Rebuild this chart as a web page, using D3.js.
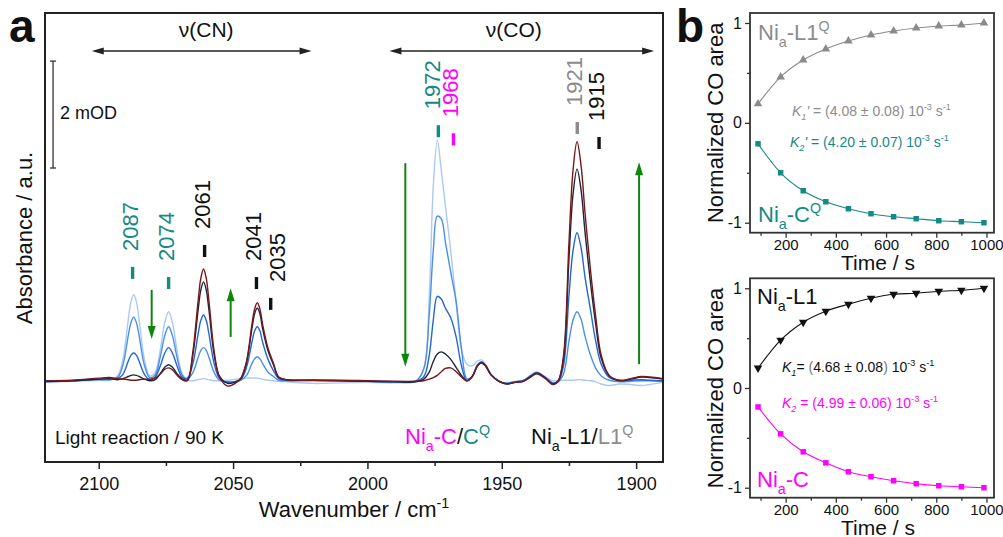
<!DOCTYPE html>
<html>
<head>
<meta charset="utf-8">
<script src="https://d3js.org/d3.v7.min.js"></script>
<style>
  body { margin: 0; background: #fff; }
  svg { display: block; font-family: "Liberation Sans", Arial, sans-serif; }
</style>
</head>
<body>
<svg id="fig" width="1003" height="537"></svg>
<script>
// ---------- panel a : IR spectra (mOD vs wavenumber) ----------
const wn = [2120, 2110, 2100, 2096, 2093, 2091, 2089, 2088, 2087, 2086,
            2085, 2083, 2081, 2079, 2077, 2075.5, 2074, 2072.5, 2071, 2069,
            2067, 2065, 2063, 2062, 2061, 2060, 2059, 2057, 2055, 2052,
            2049, 2047, 2045, 2043, 2042, 2041, 2040, 2039, 2037, 2035,
            2033, 2030, 2020, 2010, 2000, 1990, 1982, 1979, 1977, 1975.5,
            1974, 1972.5, 1971, 1969, 1967, 1965, 1963, 1961, 1959, 1957.5,
            1956, 1954, 1951, 1948, 1945, 1942, 1939.5, 1937, 1934, 1931,
            1929, 1927, 1925, 1923.5, 1922, 1920.5, 1919, 1917, 1915, 1913,
            1910, 1906, 1902, 1898, 1895, 1890];

const spL0 = [0.00, 0.01, 0.03, 0.03, 0.11, 0.42, 1.17, 1.50, 1.63, 1.50,
              1.17, 0.42, 0.11, 0.18, 0.63, 1.09, 1.31, 1.09, 0.63, 0.16,
              0.03, 0.02, 0.04, 0.05, 0.06, 0.05, 0.04, 0.02, 0.02, 0.03,
              0.05, 0.06, 0.07, 0.07, 0.07, 0.07, 0.06, 0.05, 0.03, 0.02,
              0.01, 0.00, -0.03, -0.02, -0.01, -0.02, 0.02, 0.25, 1.60, 3.65,
              4.52, 3.95, 3.30, 2.45, 1.50, 0.60, 0.33, 0.30, 0.39, 0.41,
              0.33, 0.15, 0.02, -0.02, 0.01, 0.03, 0.12, 0.19, 0.10, 0.02,
              0.02, 0.03, 0.03, 0.03, 0.04, 0.04, 0.03, 0.02, 0.00, -0.04,
              -0.07, -0.04, -0.05, -0.07, -0.05, -0.01];
const spL1 = [0.00, 0.02, 0.04, 0.04, 0.08, 0.31, 0.87, 1.11, 1.21, 1.11,
              0.87, 0.31, 0.08, 0.13, 0.49, 0.85, 1.03, 0.85, 0.49, 0.13,
              0.05, 0.17, 0.46, 0.59, 0.64, 0.59, 0.46, 0.17, 0.03, 0.00,
              0.00, 0.03, 0.12, 0.34, 0.43, 0.47, 0.43, 0.34, 0.18, 0.10,
              0.03, 0.02, 0.02, 0.02, 0.01, 0.00, 0.01, 0.25, 1.25, 2.45,
              3.10, 3.05, 2.62, 2.05, 1.50, 0.62, 0.06, 0.10, 0.32, 0.37,
              0.30, 0.13, 0.01, -0.03, 0.00, 0.02, 0.10, 0.17, 0.09, -0.02,
              0.00, 0.15, 0.76, 1.15, 1.31, 1.17, 0.85, 0.50, 0.25, 0.11,
              0.03, 0.00, 0.01, 0.02, 0.02, 0.01];
const spL2 = [0.00, 0.02, 0.05, 0.05, 0.06, 0.14, 0.39, 0.50, 0.54, 0.50,
              0.39, 0.14, 0.04, 0.09, 0.31, 0.53, 0.64, 0.53, 0.32, 0.09,
              0.07, 0.33, 0.90, 1.15, 1.25, 1.15, 0.90, 0.33, 0.06, -0.01,
              0.01, 0.05, 0.27, 0.74, 0.95, 1.03, 0.95, 0.74, 0.42, 0.21,
              0.06, 0.03, 0.03, 0.02, 0.01, 0.00, 0.01, 0.10, 0.50, 1.15,
              1.60, 1.55, 1.38, 1.20, 0.84, 0.30, 0.02, 0.10, 0.32, 0.37,
              0.30, 0.13, 0.01, -0.03, 0.00, 0.02, 0.10, 0.17, 0.09, -0.03,
              0.00, 0.31, 1.61, 2.45, 2.79, 2.51, 1.95, 1.35, 0.75, 0.33,
              0.08, 0.02, 0.03, 0.04, 0.03, 0.02];
const spN = [0.01, 0.02, 0.05, 0.06, 0.04, 0.06, 0.10, 0.12, 0.13, 0.12,
             0.10, 0.05, 0.02, 0.04, 0.16, 0.27, 0.32, 0.27, 0.16, 0.06,
             0.03, 0.49, 1.35, 1.72, 1.87, 1.72, 1.35, 0.49, 0.10, -0.03,
             0.00, 0.07, 0.36, 0.99, 1.27, 1.38, 1.27, 0.99, 0.58, 0.32,
             0.08, 0.04, 0.03, 0.02, 0.01, 0.00, 0.00, 0.05, 0.18, 0.38,
             0.52, 0.56, 0.52, 0.42, 0.27, 0.12, 0.02, 0.10, 0.30, 0.36,
             0.30, 0.13, 0.01, -0.04, -0.01, 0.01, 0.09, 0.16, 0.08, -0.04,
             0.02, 0.44, 2.30, 3.50, 3.98, 3.59, 2.79, 1.86, 1.06, 0.44,
             0.11, 0.02, 0.05, 0.09, 0.08, 0.05];
const spR = [0.02, 0.03, 0.07, 0.08, 0.06, 0.05, 0.04, 0.03, 0.03, 0.03,
             0.04, 0.05, 0.05, 0.07, 0.15, 0.23, 0.26, 0.22, 0.13, 0.04,
             0.02, 0.55, 1.52, 1.94, 2.11, 1.94, 1.52, 0.55, 0.08, -0.08,
             -0.02, 0.08, 0.38, 1.07, 1.36, 1.48, 1.36, 1.07, 0.63, 0.35,
             0.09, 0.04, 0.03, 0.03, 0.02, 0.01, 0.01, 0.02, 0.05, 0.08,
             0.12, 0.19, 0.25, 0.26, 0.19, 0.09, 0.02, 0.10, 0.30, 0.35,
             0.29, 0.13, 0.01, -0.04, -0.01, 0.01, 0.08, 0.15, 0.07, -0.05,
             0.02, 0.50, 2.60, 3.95, 4.49, 4.05, 3.15, 2.10, 1.20, 0.50,
             0.12, 0.03, 0.06, 0.10, 0.09, 0.06];

const majorWn = [2100, 2050, 2000, 1950, 1900];
const minorWn = [2075, 2025, 1975, 1925];

const peakText = ["2087", "2074", "2061", "2041", "2035", "1972", "1968", "1921", "1915"];
const peakPos  = [2087.4, 2074, 2060.6, 2041.3, 2036, 1973.6, 1968, 1921.9, 1913.8];
const peakTop  = [2.15, 1.96, 2.56, 1.96, 1.57, 4.80, 4.65, 4.86, 4.58];
const peakKind = ["q", "q", "l", "l", "l", "q", "c", "lq", "l"];

// green arrows: [wavenumber, from mOD, to mOD]
const trendArrows = [[2080.3, 1.72, 0.80], [2050.9, 0.84, 1.75], [1985.9, 4.09, 0.28], [1898.9, 0.33, 4.11]];

// ---------- panel b : kinetics ----------
const timeS = [90, 180, 270, 360, 450, 540, 630, 720, 810, 900, 990];
const areaL1Q = [0.19, 0.46, 0.63, 0.74, 0.82, 0.88, 0.92, 0.95, 0.97, 0.98, 1.00];
const areaCQ  = [-0.21, -0.50, -0.68, -0.79, -0.86, -0.91, -0.94, -0.96, -0.98, -0.99, -1.00];
const areaL1  = [0.20, 0.48, 0.66, 0.77, 0.84, 0.90, 0.94, 0.95, 0.97, 0.98, 1.00];
const areaC   = [-0.19, -0.46, -0.64, -0.75, -0.84, -0.89, -0.93, -0.96, -0.98, -0.99, -1.00];
const timeTicks = [200, 400, 600, 800, 1000];
const timeMinor = [100, 300, 500, 700, 900];
const areaTicks = [-1, 0, 1];

const TEAL = "#148a85", MAG = "#ff00ff", GRAY = "#8c8c8c", GREEN = "#0b870b", INK = "#111";
const colorOf = {q: TEAL, l: INK, c: MAG, lq: GRAY};
const spColors = ["#aac9f3", "#4b8fea", "#2366d4", "#1c2540", "#7a1717"];
const FONT = '"Liberation Sans", Arial, sans-serif';

const svg = d3.select("#fig");

// rich text helper: parts = [text, color, mode(sub/sup), italic]
function rich(g, x, y, size, parts) {
  const t = g.append("text").attr("x", x).attr("y", y).attr("font-size", size);
  let shift = 0;
  parts.forEach(([str, col, mode, ital]) => {
    const target = mode === "sub" ? size * 0.3 : mode === "sup" ? -size * 0.42 : 0;
    const s = t.append("tspan").text(str).attr("fill", col).attr("dy", target - shift);
    if (mode) s.attr("font-size", size * 0.65);
    if (ital) s.attr("font-style", "italic");
    shift = target;
  });
  return t;
}

function arrowHead(g, x, y, dir, len, half, col) {
  // dir: unit vector pointing to the tip
  const [dx, dy] = dir, px = -dy, py = dx;
  g.append("path")
    .attr("d", `M${x},${y}L${x - dx * len + px * half},${y - dy * len + py * half}L${x - dx * len - px * half},${y - dy * len - py * half}Z`)
    .attr("fill", col);
}

// ================= panel a =================
const xa = d3.scaleLinear().domain([2120, 1890]).range([45, 663]);
const ya = d3.scaleLinear().domain([-1.5, 6.9]).range([462, 13]);
const ga = svg.append("g");

ga.append("clipPath").attr("id", "clipA")
  .append("rect").attr("x", 45).attr("y", 13).attr("width", 618).attr("height", 449);

const spLine = d3.line()
  .x((d, i) => xa(wn[i]))
  .y(d => ya(d))
  .curve(d3.curveCatmullRom.alpha(0.5));

ga.append("g").attr("clip-path", "url(#clipA)")
  .selectAll("path").data([spL0, spL1, spL2, spN, spR]).join("path")
  .attr("d", spLine)
  .attr("fill", "none")
  .attr("stroke", (d, i) => spColors[i])
  .attr("stroke-width", 1.4);

// frame
ga.append("rect").attr("x", 45).attr("y", 13).attr("width", 618).attr("height", 449)
  .attr("fill", "none").attr("stroke", "#222").attr("stroke-width", 2);

// x axis
const axA = ga.append("g").attr("transform", "translate(0,462)")
  .call(d3.axisBottom(xa).tickValues(majorWn).tickSize(7).tickPadding(8).tickFormat(d3.format("d")));
axA.attr("font-family", FONT).attr("font-size", 18);
axA.select(".domain").remove();
axA.selectAll("line").attr("stroke", "#222").attr("stroke-width", 1.5);
axA.selectAll("text").attr("fill", INK);
const axAm = ga.append("g").attr("transform", "translate(0,462)")
  .call(d3.axisBottom(xa).tickValues(minorWn).tickSize(4).tickFormat(""));
axAm.select(".domain").remove();
axAm.selectAll("line").attr("stroke", "#222").attr("stroke-width", 1.5);

rich(ga, 0, 0, 22, [["Wavenumber / cm", INK], ["-1", INK, "sup"]])
  .attr("x", 354).attr("y", 517).attr("text-anchor", "middle");

ga.append("text").text("Absorbance / a.u.")
  .attr("transform", "translate(24,238) rotate(-90)")
  .attr("y", 0.36 * 22).attr("font-size", 22).attr("text-anchor", "middle").attr("fill", INK);

// region arrows
[[2102.6, 2020.8, "ν(CN)", 2060], [1991.8, 1893.3, "ν(CO)", 1945.5]].forEach(([a, b, lab, c]) => {
  const yy = ya(6.19);
  ga.append("line").attr("x1", xa(a) + 6).attr("x2", xa(b) - 6).attr("y1", yy).attr("y2", yy)
    .attr("stroke", "#222").attr("stroke-width", 1.4);
  arrowHead(ga, xa(a), yy, [-1, 0], 12, 3.5, "#222");
  arrowHead(ga, xa(b), yy, [1, 0], 12, 3.5, "#222");
  ga.append("text").text(lab).attr("x", xa(c)).attr("y", 37)
    .attr("text-anchor", "middle").attr("font-size", 21).attr("fill", INK);
});

// scale bar 2 mOD
{
  const sx = xa(2117), y1 = ya(4), y2 = ya(6);
  ga.append("line").attr("x1", sx).attr("x2", sx).attr("y1", y1).attr("y2", y2).attr("stroke", "#333").attr("stroke-width", 1.3);
  [y1, y2].forEach(v => ga.append("line").attr("x1", sx - 3).attr("x2", sx + 3).attr("y1", v).attr("y2", v)
    .attr("stroke", "#333").attr("stroke-width", 1.3));
  ga.append("text").text("2 mOD").attr("x", sx + 7).attr("y", 119).attr("font-size", 18).attr("fill", INK);
}

// green trend arrows
trendArrows.forEach(([w, f, t]) => {
  const x = xa(w), yf = ya(f), yt = ya(t), dir = yt > yf ? 1 : -1;
  ga.append("line").attr("x1", x).attr("x2", x).attr("y1", yf).attr("y2", yt - dir * 10)
    .attr("stroke", GREEN).attr("stroke-width", 2);
  arrowHead(ga, x, yt, [0, dir], 13, 4, GREEN);
});

// peak labels and markers
peakText.forEach((lab, i) => {
  const col = colorOf[peakKind[i]];
  const x = xa(peakPos[i]), top = ya(peakTop[i]);
  ga.append("line").attr("x1", x).attr("x2", x).attr("y1", top).attr("y2", top + 12)
    .attr("stroke", col).attr("stroke-width", 3.4);
  const dx = lab === "2035" ? 6 : lab === "1972" ? -6 : -3;
  ga.append("text").text(lab)
    .attr("transform", `translate(${x + dx},${top - 16}) rotate(-90)`)
    .attr("y", 0.36 * 22).attr("font-size", 22).attr("fill", col);
});

// bottom notes
ga.append("text").text("Light reaction / 90 K").attr("x", 55).attr("y", 444)
  .attr("font-size", 19).attr("fill", INK);
rich(ga, 405, 444, 22, [["Ni", MAG], ["a", MAG, "sub"], ["-C", MAG], ["/", INK], ["C", TEAL], ["Q", TEAL, "sup"]]);
rich(ga, 531, 444, 22, [["Ni", INK], ["a", INK, "sub"], ["-L1", INK], ["/", INK], ["L1", GRAY], ["Q", GRAY, "sup"]]);

ga.append("text").text("a").attr("x", 9).attr("y", 42).attr("font-size", 46).attr("font-weight", "bold").attr("fill", INK);
svg.append("text").text("b").attr("x", 676).attr("y", 42).attr("font-size", 46).attr("font-weight", "bold").attr("fill", INK);

// ================= panel b =================
const xb = d3.scaleLinear().domain([58, 1030]).range([750, 994]);

// triangle pointing down
const symbolTriDown = {
  draw(ctx, size) {
    const s = Math.sqrt(size * 4 / Math.sqrt(3)), h = s * Math.sqrt(3) / 2;
    ctx.moveTo(-s / 2, -h / 3);
    ctx.lineTo(s / 2, -h / 3);
    ctx.lineTo(0, 2 * h / 3);
    ctx.closePath();
  }
};

function kinPanel(top, bottom, upper, lower, upSym, upCol, loCol, labels) {
  const g = svg.append("g");
  const yb = d3.scaleLinear().domain([-1.1, 1.1]).range([bottom, top]);

  const ax = g.append("g").attr("transform", `translate(0,${bottom})`)
    .call(d3.axisBottom(xb).tickValues(timeTicks).tickSize(5).tickPadding(2).tickFormat(d3.format("d")));
  ax.attr("font-family", FONT).attr("font-size", 15);
  ax.select(".domain").remove();
  const axm = g.append("g").attr("transform", `translate(0,${bottom})`)
    .call(d3.axisBottom(xb).tickValues(timeMinor).tickSize(3).tickFormat(""));
  axm.select(".domain").remove();
  const ay = g.append("g").attr("transform", "translate(750,0)")
    .call(d3.axisLeft(yb).tickValues(areaTicks).tickSize(5).tickPadding(3).tickFormat(d => d < 0 ? "-" + (-d) : String(d)));
  ay.attr("font-family", FONT).attr("font-size", 16);
  ay.select(".domain").remove();
  const aym = g.append("g").attr("transform", "translate(750,0)")
    .call(d3.axisLeft(yb).tickValues([-0.5, 0.5]).tickSize(3).tickFormat(""));
  aym.select(".domain").remove();
  g.selectAll(".tick line").attr("stroke", "#333").attr("stroke-width", 1.3);
  g.selectAll(".tick text").attr("fill", INK);

  g.append("rect").attr("x", 750).attr("y", top).attr("width", 244).attr("height", bottom - top)
    .attr("fill", "none").attr("stroke", "#333").attr("stroke-width", 1.8);

  const ln = d3.line().x((d, i) => xb(timeS[i])).y(d => yb(d)).curve(d3.curveMonotoneX);
  [[upper, upCol, upSym], [lower, loCol, d3.symbolSquare]].forEach(([vals, col, sym]) => {
    g.append("path").attr("d", ln(vals)).attr("fill", "none").attr("stroke", col).attr("stroke-width", 1.1);
    g.selectAll(null).data(vals).join("path")
      .attr("d", d3.symbol().type(sym).size(sym === d3.symbolSquare ? 30 : 32))
      .attr("transform", (d, i) => `translate(${xb(timeS[i])},${yb(d)})`)
      .attr("fill", col);
  });

  g.append("text").text("Normalized CO area")
    .attr("transform", `translate(715,${(top + bottom) / 2}) rotate(-90)`)
    .attr("y", 0.36 * 22).attr("font-size", 22).attr("text-anchor", "middle").attr("fill", INK);
  g.append("text").text("Time / s").attr("x", 878).attr("y", bottom + 37)
    .attr("text-anchor", "middle").attr("font-size", 21).attr("fill", INK);

  labels(g, yb);
  return g;
}

kinPanel(13, 232.7, areaL1Q, areaCQ, d3.symbolTriangle, "#8a8a8a", TEAL, (g) => {
  rich(g, 758, 40, 22, [["Ni", GRAY], ["a", GRAY, "sub"], ["-L1", GRAY], ["Q", GRAY, "sup"]]);
  rich(g, 758, 222, 22, [["Ni", TEAL], ["a", TEAL, "sub"], ["-C", TEAL], ["Q", TEAL, "sup"]]);
  rich(g, 792, 116, 14, [["K", GRAY, null, true], ["1", GRAY, "sub", true], ["'", GRAY, null, true],
    [" = (4.08 ± 0.08) 10", GRAY], ["-3", GRAY, "sup"], [" s", GRAY], ["-1", GRAY, "sup"]]);
  rich(g, 790, 147, 14, [["K", TEAL, null, true], ["2", TEAL, "sub", true], ["'", TEAL, null, true],
    [" = (4.20 ± 0.07) 10", TEAL], ["-3", TEAL, "sup"], [" s", TEAL], ["-1", TEAL, "sup"]]);
});

kinPanel(278.3, 497.7, areaL1, areaC, symbolTriDown, INK, MAG, (g) => {
  rich(g, 757, 304, 22, [["Ni", INK], ["a", INK, "sub"], ["-L1", INK]]);
  rich(g, 757, 487, 22, [["Ni", MAG], ["a", MAG, "sub"], ["-C", MAG]]);
  rich(g, 782, 372, 14, [["K", INK, null, true], ["1", INK, "sub", true], ["= ", INK],
    ["(", "#777"], ["4.68 ± 0.08", INK], [")", "#777"], [" 10", INK], ["-3", INK, "sup"], [" s", INK], ["-1", INK, "sup"]]);
  rich(g, 782, 408, 14, [["K", MAG, null, true], ["2", MAG, "sub", true],
    [" = (4.99 ± 0.06) 10", MAG], ["-3", MAG, "sup"], [" s", MAG], ["-1", MAG, "sup"]]);
});
</script>
</body>
</html>
